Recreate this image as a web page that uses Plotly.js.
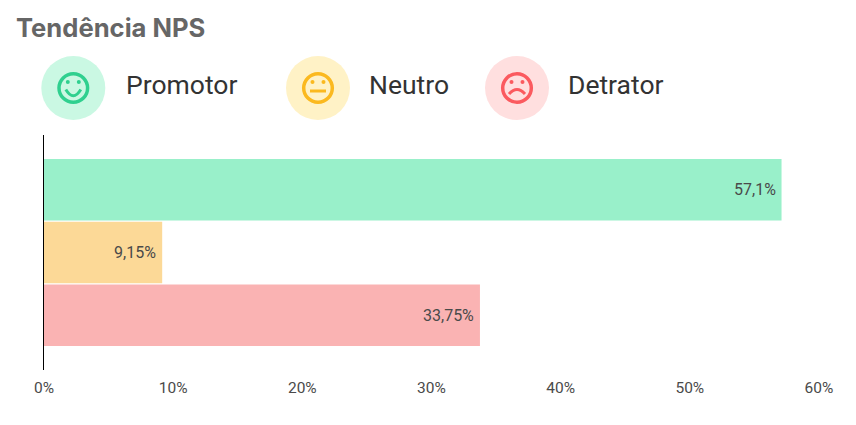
<!DOCTYPE html>
<html><head><meta charset="utf-8">
<script src="https://cdn.plot.ly/plotly-3.0.1.min.js"></script>
<style>html,body{margin:0;padding:0;background:#fff}#c{width:856px;height:425px}</style>
</head><body><div id="c"></div>
<script>
const categories = ['Promotor', 'Neutro', 'Detrator'];
const values = [57.1, 9.15, 33.75];
const valueLabels = ['57,1%', '9,15%', '33,75%'];
const barColors = ['#99f0ca', '#fcd997', '#fab3b3'];
const xTicks = [0, 10, 20, 30, 40, 50, 60];

const W = 856, H = 425, L = 44, T = 135, PW = 775, PH = 235;
const px = x => (x - L) / PW, py = y => (T + PH - y) / PH;

function circle(cx, cy, r, opt) {
  return Object.assign({type:'circle', xref:'paper', yref:'paper', layer:'above',
    x0:px(cx-r), x1:px(cx+r), y0:py(cy+r), y1:py(cy-r)}, opt);
}
function path(points, color) {
  const d = points.map(p => (p.cmd) + ' ' + px(p.x) + ' ' + py(p.y)).join(' ');
  return {type:'path', xref:'paper', yref:'paper', layer:'above', path:d,
    line:{color:color, width:3}, fillcolor:'rgba(0,0,0,0)'};
}
function face(cx, cy, bg, fg, mood) {
  const s = [];
  s.push(circle(cx, cy, 32, {fillcolor:bg, line:{width:0}}));
  s.push(circle(cx, cy, 14.3, {fillcolor:'rgba(0,0,0,0)', line:{color:fg, width:3.5}}));
  s.push(circle(cx-5.5, cy-6, 2, {fillcolor:fg, line:{width:0}}));
  s.push(circle(cx+5.5, cy-6, 2, {fillcolor:fg, line:{width:0}}));
  if (mood === 'happy') {
    s.push(path([{cmd:'M',x:cx-7.5,y:cy+1.5},{cmd:'Q',x:cx,y:cy+14},{cmd:'',x:cx+7.5,y:cy+1.5}], fg));
  } else if (mood === 'sad') {
    s.push(path([{cmd:'M',x:cx-8,y:cy+6},{cmd:'Q',x:cx,y:cy-3},{cmd:'',x:cx+8,y:cy+6}], fg));
  } else {
    s.push(path([{cmd:'M',x:cx-8,y:cy+3},{cmd:'L',x:cx+8,y:cy+3}], fg));
  }
  return s;
}
const shapes = [].concat(
  face(73.3, 88, '#caf8e3', '#2fd08f', 'happy'),
  face(318, 88, '#fff2c6', '#fbb91f', 'neutral'),
  face(517, 88, '#ffdfdf', '#fb5a5f', 'sad')
);
function legendText(text, x) {
  return {text:text, xref:'paper', yref:'paper', x:px(x), y:py(85), xanchor:'left', yanchor:'middle',
    showarrow:false, font:{family:'Roboto', size:26.5, color:'#333333'}};
}
const barLabels = values.map((v, i) => ({
  text:valueLabels[i], xref:'x', yref:'y', x:v, y:categories[i], xanchor:'right', yanchor:'middle',
  xshift:-4, showarrow:false, font:{family:'Roboto', size:16, color:'#4a4a4a'}
}));
Plotly.newPlot('c', [{
  type:'bar', orientation:'h', y:categories, x:values, width:0.98,
  marker:{color:barColors, line:{width:0}}, hoverinfo:'none'
}], {
  width:W, height:H, showlegend:false, paper_bgcolor:'#fff', plot_bgcolor:'#fff',
  margin:{l:L, t:T, r:W-L-PW, b:H-T-PH, pad:0},
  font:{family:'Roboto', size:15.5, color:'#4a4a4a'},
  xaxis:{range:[0,60], tickvals:xTicks, ticktext:xTicks.map(v => v + '%'), showgrid:false, zeroline:false,
    showline:false, ticks:'', ticklabelstandoff:6, tickfont:{family:'Roboto', size:15.5, color:'#4a4a4a'}},
  yaxis:{type:'category', categoryorder:'array', categoryarray:categories, range:[2.87,-0.87],
    showticklabels:false, ticks:'', showgrid:false, zeroline:false, showline:true, linecolor:'#000', linewidth:1},
  shapes:shapes,
  annotations:[
    {text:'<b>Tendência NPS</b>', xref:'paper', yref:'paper', x:px(14), y:py(28), xanchor:'left', yanchor:'middle',
      showarrow:false, font:{family:'Inter', size:25.6, color:'#666666'}},
    legendText('Promotor', 124), legendText('Neutro', 367), legendText('Detrator', 566)
  ].concat(barLabels)
}, {displayModeBar:false, staticPlot:true});
</script></body></html>
